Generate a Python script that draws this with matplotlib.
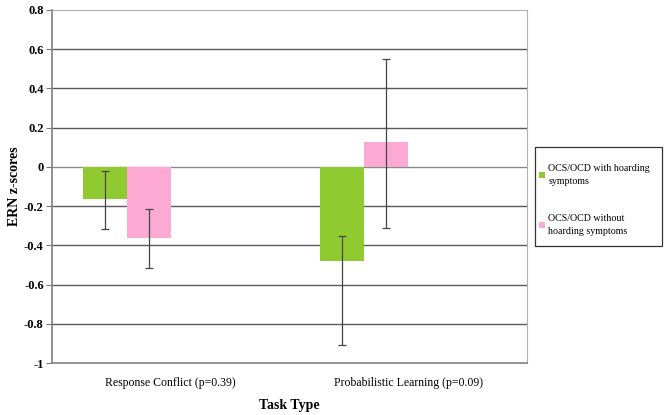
import numpy as np
import matplotlib.pyplot as plt
from matplotlib.patches import Rectangle

# ERN z-scores by task type and hoarding group
tasks = ['Response Conflict (p=0.39)', 'Probabilistic Learning (p=0.09)']
groups = ['OCS/OCD with hoarding\nsymptoms', 'OCS/OCD without\nhoarding symptoms']
with_hoard = [-0.165, -0.48]
without_hoard = [-0.365, 0.125]
# asymmetric error bars (lower, upper)
with_err_lo = [0.153, 0.428]
with_err_hi = [0.146, 0.128]
without_err_lo = [0.149, 0.436]
without_err_hi = [0.151, 0.427]

green = '#8fcb30'
pink = '#fcaad3'

plt.rcParams['font.family'] = ['Liberation Serif', 'DejaVu Serif']

fig = plt.figure(figsize=(6.64, 4.15), dpi=100)
ax = fig.add_axes([52 / 664, 1 - 363 / 415, (527 - 52) / 664, (363 - 10) / 415])

x = np.arange(len(tasks))
w = 44 / 237.5
# bars sit left of the category centre (as in the original Excel chart)
ax.bar(x - 1.5 * w, with_hoard, w, color=green, label=groups[0], zorder=2)
ax.bar(x - 0.5 * w, without_hoard, w, color=pink, label=groups[1], zorder=2)
ax.errorbar(x - 1.5 * w, with_hoard, yerr=[with_err_lo, with_err_hi], fmt='none',
            ecolor='#444444', elinewidth=0.9, capsize=3, capthick=0.9, zorder=3)
ax.errorbar(x - 0.5 * w, without_hoard, yerr=[without_err_lo, without_err_hi], fmt='none',
            ecolor='#444444', elinewidth=0.9, capsize=3, capthick=0.9, zorder=3)

ax.set_ylim(-1, 0.8)
ax.set_xlim(-0.5, 1.5)
yt = np.round(np.arange(-1, 0.81, 0.2), 1)
ax.set_yticks(yt)
ax.set_yticklabels(['0' if v == 0 else ('-1' if v == -1 else f'{v:g}') for v in yt],
                   fontsize=9, fontweight='bold')
for v in yt[1:-1]:
    ax.axhline(v, color='#5a5a5a' if v != 0 else '#8a8a8a', lw=1, zorder=1)

ax.set_xticks(x)
ax.set_xticklabels(tasks, fontsize=8.5)
ax.tick_params(axis='x', length=0, pad=10)
ax.tick_params(axis='y', length=4, color='#777777', pad=2)

for side in ['top', 'right']:
    ax.spines[side].set_color('#b0b0b0')
for side in ['left', 'bottom']:
    ax.spines[side].set_color('#808080')
    ax.spines[side].set_linewidth(1.2)

ax.set_xlabel('Task Type', fontsize=10, fontweight='bold', labelpad=7)
ax.set_ylabel('ERN z-scores', fontsize=10, fontweight='bold')
ax.yaxis.set_label_coords(-(52 - 21) / 475, 0.5)

# legend box drawn separately so the padding can match
fig.patches.append(Rectangle((535 / 664, 1 - 246 / 415), 127 / 664, 99 / 415,
                             transform=fig.transFigure, fill=False,
                             edgecolor='#333333', lw=0.9))
leg = fig.legend(loc='upper left', bbox_to_anchor=(539 / 664, 1 - 164 / 415),
                 fontsize=7.2, frameon=False,
                 handlelength=0.6, handleheight=0.6, handletextpad=0.35,
                 labelspacing=2.8, borderpad=0, borderaxespad=0)
for t in leg.get_texts():
    t.set_linespacing(1.6)

fig.savefig('out.png', dpi=100)
